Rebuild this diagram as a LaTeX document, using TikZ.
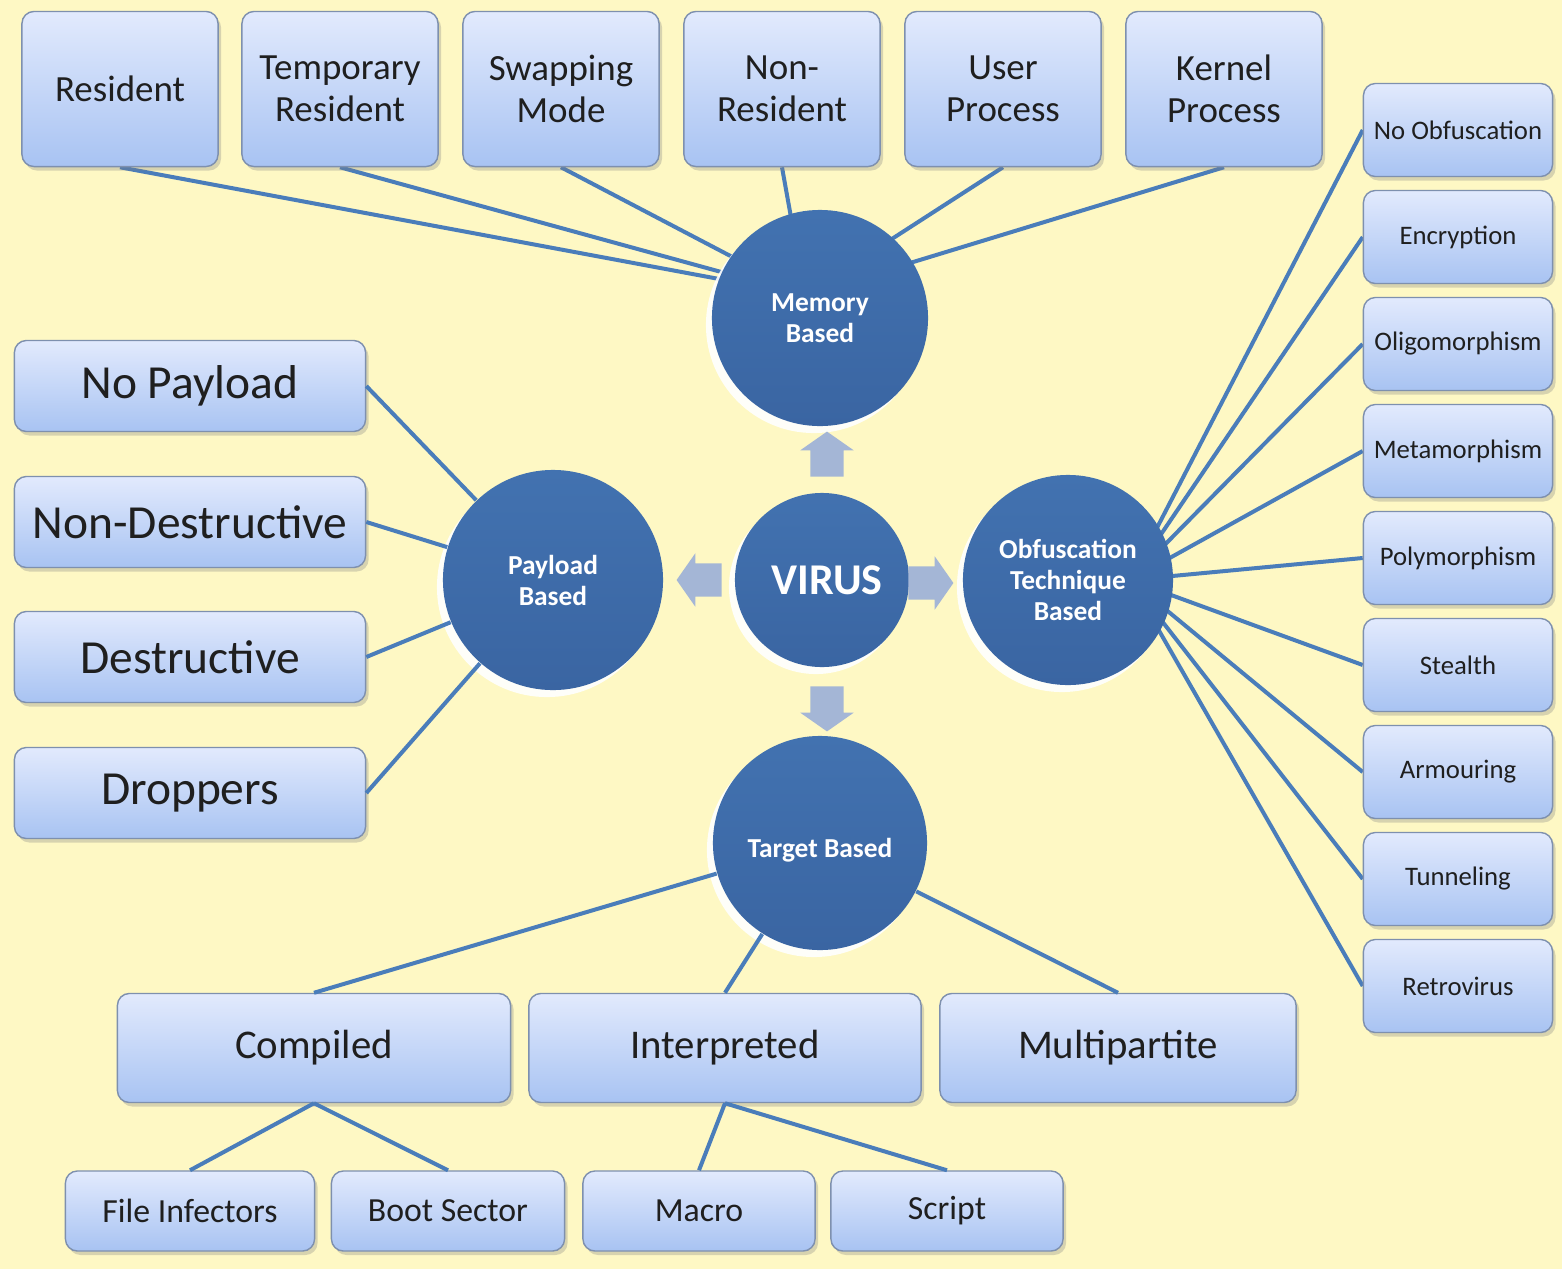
\documentclass[tikz,border=0pt]{standalone}
\usepackage{fontspec}
\setmainfont{Carlito}
\usetikzlibrary{shapes.arrows,shadows}
\pgfdeclarelayer{bg}
\pgfdeclarelayer{links}
\pgfsetlayers{bg,links,main}
\definecolor{bgyellow}{HTML}{FEF8C4}
\definecolor{ballblue}{HTML}{4272B0}
\definecolor{balldark}{HTML}{3A65A2}
\definecolor{linkblue}{HTML}{4A7DBA}
\definecolor{boxtop}{HTML}{E2EAFD}
\definecolor{boxbot}{HTML}{A8C3F2}
\definecolor{boxline}{HTML}{7E90AE}
\definecolor{arrowgray}{HTML}{A4B6D6}
\tikzset{
  leaf/.style={draw=boxline, rounded corners=0.12cm, top color=boxtop, bottom color=boxbot,
    drop shadow={shadow xshift=0.03cm, shadow yshift=-0.04cm, opacity=0.3},
    align=center, text=black!88, inner sep=0pt},
  ball/.style={circle, top color=ballblue, bottom color=balldark, text=white, align=center,
    minimum size=2.16cm, inner sep=0pt,
    drop shadow={fill=white, shadow xshift=-0.06cm, shadow yshift=-0.07cm, opacity=0.9},
    font=\fontsize{7.8}{8.8}\selectfont\bfseries},
  link/.style={draw=linkblue, line width=0.04cm},
  flow/.style={single arrow, fill=arrowgray, inner sep=0.16cm, single arrow head extend=0.1cm,
    single arrow tip angle=110, minimum height=0.36cm}
}
\begin{document}
\begin{tikzpicture}[x=0.01cm,y=-0.01cm]
  \useasboundingbox (0,0) rectangle (1562,1269);
  \begin{pgfonlayer}{bg}
    \fill[bgyellow] (0,0) rectangle (1562,1269);
  \end{pgfonlayer}

  % centre and the four groups
  \node[ball, minimum size=1.74cm, font=\fontsize{12.5}{14}\selectfont\bfseries] (vir) at (822,580) {\hspace{0.1cm}VIRUS};
  \node[ball] (mem) at (820,318) {Memory\\Based};
  \node[ball, minimum size=2.2cm] (pay) at (553,580) {Payload\\Based};
  \node[ball, minimum size=2.1cm] (obf) at (1068,580) {Obfuscation\\Technique\\Based};
  \node[ball, minimum size=2.14cm, text height=0.34cm] (tgt) at (820,843) {Target Based};
  \coordinate (memhub) at (805,295);
  \coordinate (obfhub) at (1130,580);

  \node[flow, shape border rotate=90] (aup) at (827,460) {};
  \node[flow, shape border rotate=180] (alf) at (705,580) {};
  \node[flow] (art) at (925,583) {};
  \node[flow, shape border rotate=270] (adn) at (827,703) {};

  % memory based
  \begin{scope}[every node/.style={leaf, minimum width=1.96cm, minimum height=1.55cm,
      font=\fontsize{10.5}{12}\selectfont}]
    \node (res) at (120,89) {Resident};
    \node (tmp) at (340,89) {Temporary\\Resident};
    \node (swp) at (561,89) {Swapping\\Mode};
    \node (nrs) at (782,89) {Non-\\Resident};
    \node (usr) at (1003,89) {User\\Process};
    \node (krn) at (1224,89) {Kernel\\Process};
  \end{scope}
  \begin{pgfonlayer}{links}
    \foreach \n in {res,tmp,swp,nrs,usr,krn}
      \draw[link] (\n.south) -- (memhub);
  \end{pgfonlayer}

  % payload based
  \begin{scope}[every node/.style={leaf, minimum width=3.51cm, minimum height=0.91cm,
      font=\fontsize{13.5}{15}\selectfont}]
    \node (nop) at (190,386) {No Payload};
    \node (ndt) at (190,522) {Non-Destructive};
    \node (dst) at (190,657) {Destructive};
    \node (drp) at (190,793) {Droppers};
  \end{scope}
  \foreach \n in {nop,ndt,dst,drp}
    \draw[link] (\n.east) -- (pay);

  % obfuscation technique based
  \foreach \n/\t [count=\i from 0] in {nob/No Obfuscation, enc/Encryption, oli/Oligomorphism,
      met/Metamorphism, pol/Polymorphism, stl/Stealth, arm/Armouring, tun/Tunneling, ret/Retrovirus}
  {
    \node[leaf, minimum width=1.89cm, minimum height=0.93cm, font=\fontsize{7.6}{9}\selectfont]
      (\n) at (1458,{130+107*\i}) {\t};
    \begin{pgfonlayer}{links}
      \draw[link] (obfhub) -- (\n.west);
    \end{pgfonlayer}
  }

  % target based
  \begin{scope}[every node/.style={leaf, minimum height=1.09cm, font=\fontsize{11.6}{13}\selectfont}]
    \node[minimum width=3.93cm] (cmp) at (314,1048) {Compiled};
    \node[minimum width=3.92cm] (int) at (725,1048) {Interpreted};
    \node[minimum width=3.56cm] (mul) at (1118,1048) {Multipartite};
  \end{scope}
  \begin{scope}[every node/.style={leaf, minimum height=0.8cm, font=\fontsize{9.6}{11}\selectfont}]
    \node[minimum width=2.49cm] (fil) at (190,1211) {File Infectors};
    \node[minimum width=2.33cm] (bts) at (448,1211) {Boot Sector};
    \node[minimum width=2.32cm] (mac) at (699,1211) {Macro};
    \node[minimum width=2.32cm] (scr) at (947,1211) {Script};
  \end{scope}
  \foreach \n in {cmp,int,mul}
    \draw[link] (\n.north) -- (tgt);
  \draw[link] (cmp.south) -- (fil.north);
  \draw[link] (cmp.south) -- (bts.north);
  \draw[link] (int.south) -- (mac.north);
  \draw[link] (int.south) -- (scr.north);
\end{tikzpicture}
\end{document}
